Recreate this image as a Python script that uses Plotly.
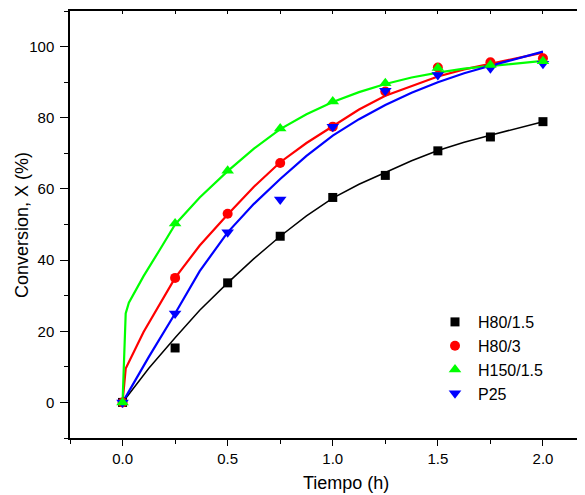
import plotly.graph_objects as go

# ---- measured data (markers) ----
t_pts = [0.0, 0.25, 0.5, 0.75, 1.0, 1.25, 1.5, 1.75, 2.0]
h80_15 = [0.0, 15.3, 33.6, 46.7, 57.6, 63.8, 70.7, 74.6, 78.9]
h80_3 = [0.0, 35.0, 53.0, 67.3, 77.5, 87.4, 94.1, 95.6, 96.7]
h150_15 = [0.0, 50.3, 65.1, 77.0, 84.6, 89.7, 94.0, 94.8, 95.9]
p25 = [0.0, 25.0, 47.8, 57.0, 77.5, 87.6, 92.0, 93.9, 95.2]

# ---- fitted curves ----
t_fit_black = [0.0, 0.125, 0.25, 0.367, 0.5, 0.625, 0.75, 0.875, 1.0, 1.125, 1.25, 1.375, 1.5, 1.625, 1.75, 1.875, 2.0]
fit_black = [0.0, 9.6, 18.2, 25.9, 33.6, 40.4, 46.7, 52.4, 57.4, 61.3, 64.6, 67.9, 70.8, 73.1, 75.1, 77.1, 78.9]

t_fit_red = [0.0, 0.015, 0.1, 0.25, 0.367, 0.5, 0.625, 0.75, 0.875, 1.0, 1.125, 1.25, 1.375, 1.5, 1.625, 1.75, 1.875, 2.0]
fit_red = [0.0, 9.5, 19.8, 35.0, 44.1, 52.8, 60.6, 67.5, 72.9, 77.6, 82.3, 86.2, 89.0, 91.6, 93.6, 95.2, 96.8, 98.3]

t_fit_green = [0.0, 0.015, 0.03, 0.05, 0.1, 0.175, 0.25, 0.367, 0.5, 0.625, 0.75, 0.875, 1.0, 1.125, 1.25, 1.375, 1.5, 1.625, 1.75, 1.875, 2.0]
fit_green = [0.0, 25.0, 28.0, 30.1, 35.5, 42.7, 50.0, 57.6, 65.0, 71.3, 76.8, 81.0, 84.4, 87.2, 89.5, 91.3, 92.7, 93.8, 94.6, 95.4, 96.0]

t_fit_blue = [0.0, 0.125, 0.25, 0.367, 0.5, 0.625, 0.75, 0.875, 1.0, 1.125, 1.25, 1.375, 1.5, 1.625, 1.75, 1.875, 2.0]
fit_blue = [0.0, 12.8, 25.0, 36.9, 47.8, 55.8, 62.8, 69.3, 75.0, 79.6, 83.6, 87.0, 90.0, 92.5, 94.6, 96.7, 98.6]

names = ["H80/1.5", "H80/3", "H150/1.5", "P25"]
colors = ["#000000", "#FF0000", "#00FF00", "#0000FF"]
symbols = ["square", "circle", "triangle-up", "triangle-down"]
sizes = [9, 10, 11, 11]

# page has an 8px body margin: figure is drawn at (8, 8)
OFF = 8
W, H = 585 - OFF, 495 - OFF
L, R, T, B = 70 - OFF, 0, 11 - OFF, 495 - 438
plot_w = W - L - R
plot_h = H - T - B

fig = go.Figure()

fits = [(t_fit_black, fit_black, 1.5), (t_fit_red, fit_red, 2.2),
        (t_fit_green, fit_green, 2.2), (t_fit_blue, fit_blue, 2.2)]
for (tx, fy, w), c in zip(fits, colors):
    fig.add_trace(go.Scatter(x=tx, y=fy, mode="lines", line=dict(color=c, width=w),
                             showlegend=False, hoverinfo="skip"))

series = [h80_15, h80_3, h150_15, p25]
draw_order = [0, 1, 3, 2]
for i in draw_order:
    fig.add_trace(go.Scatter(x=t_pts, y=series[i], mode="markers", name=names[i],
                             legendrank=i + 1,
                             marker=dict(symbol=symbols[i], color=colors[i], size=sizes[i],
                                         line=dict(width=0))))

# invisible trace for top axis
fig.add_trace(go.Scatter(x=[0], y=[0], xaxis="x2", mode="markers",
                         marker=dict(opacity=0), showlegend=False, hoverinfo="skip"))

font_family = "Liberation Sans, Arial, sans-serif"
fig.update_layout(
    width=W, height=H,
    margin=dict(l=L, r=R, t=T, b=B, pad=0),
    paper_bgcolor="white", plot_bgcolor="white",
    font=dict(family=font_family, color="black"),
    showlegend=True,
    legend=dict(x=(432 - 70) / plot_w, y=(438 - 305) / plot_h, xanchor="left", yanchor="top",
                font=dict(size=16, family=font_family), bgcolor="rgba(0,0,0,0)",
                tracegroupgap=0, itemwidth=36),
    xaxis=dict(range=[-0.25, 2.2], showgrid=False, zeroline=False,
               showline=True, linecolor="black", linewidth=1.5,
               ticks="outside", ticklen=6, tickwidth=1.2, tickcolor="black",
               tick0=0, dtick=0.5, tickformat=".1f",
               tickfont=dict(size=15),
               minor=dict(ticks="outside", ticklen=4, dtick=0.25, tick0=0, tickcolor="black", tickwidth=1.2)),
    xaxis2=dict(range=[-0.25, 2.2], overlaying="x", side="top", anchor="y",
                showgrid=False, zeroline=False, showline=True, linecolor="black", linewidth=1.5,
                ticks="inside", ticklen=3, tick0=0, dtick=0.25, tickcolor="black",
                showticklabels=False),
    yaxis=dict(range=[-10, 110], showgrid=False, zeroline=False,
               showline=True, linecolor="black", linewidth=1.5,
               ticks="outside", ticklen=8, tickwidth=1.2, tickcolor="black",
               tick0=0, dtick=20, tickfont=dict(size=15), ticklabelstandoff=3,
               minor=dict(ticks="outside", ticklen=4, dtick=10, tick0=0, tickcolor="black", tickwidth=1.2)),
)
fig.add_annotation(text="Tiempo (h)", xref="paper", yref="paper",
                   x=(346 - 70) / plot_w, y=(438 - 483) / plot_h,
                   xanchor="center", yanchor="middle", showarrow=False,
                   font=dict(size=18, family=font_family))
fig.add_annotation(text="Conversion, X (%)", xref="paper", yref="paper",
                   x=(22 - 70) / plot_w, y=(438 - 225) / plot_h, textangle=-90,
                   xanchor="center", yanchor="middle", showarrow=False,
                   font=dict(size=18, family=font_family))

fig.write_html("out.html")
